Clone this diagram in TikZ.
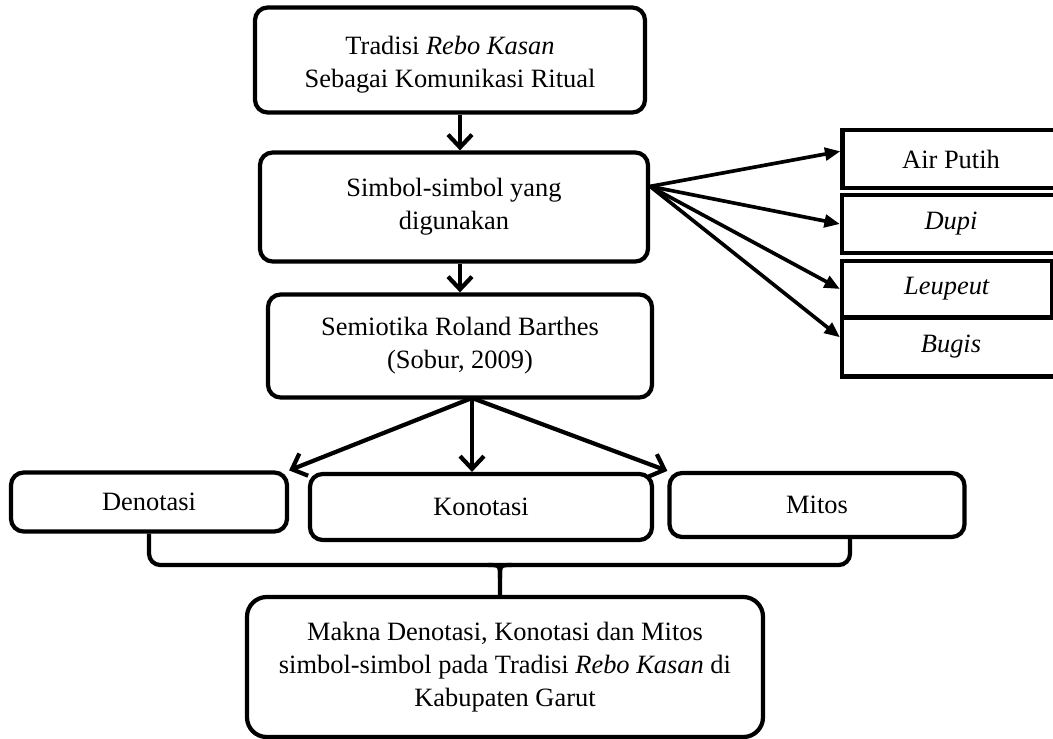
\documentclass[tikz,border=0pt]{standalone}
\usepackage{fontspec}
\setmainfont{Liberation Serif}
\usetikzlibrary{arrows.meta}

\newcommand{\px}{0.025cm}

\tikzset{
    box/.style={draw, line width=3pt, rounded corners=9pt, align=center, inner sep=0pt,
        font=\fontsize{18.8}{23.5}\selectfont},
    itembox/.style={draw, line width=3pt, inner sep=0pt, minimum height=58*\px,
        font=\fontsize{18.8}{23.5}\selectfont},
    link/.style={line width=3pt, ->},
    sidelink/.style={line width=2.6pt, -{Triangle[length=11pt, width=9pt]}},
    bracket/.style={line width=3pt, rounded corners=8pt}
}

\begin{document}
\begin{tikzpicture}[x=\px, y=-\px, >={Straight Barb[length=9pt, width=17pt]}]
    \useasboundingbox (0,0) rectangle (1053,738);
    \clip (0,0) rectangle (1053,738);

    \node[box, minimum width=390*\px, minimum height=105*\px] (tradisi) at (450,60) {\rule{0pt}{20pt}Tradisi \textit{Rebo Kasan}\\Sebagai Komunikasi Ritual};
    \node[box, minimum width=388*\px, minimum height=109*\px] (simbol) at (454,207) {Simbol-simbol yang\\digunakan};
    \node[box, minimum width=384*\px, minimum height=103*\px] (semiotika) at (460,346) {Semiotika Roland Barthes\\(Sobur, 2009)};

    \node[itembox, minimum width=217*\px] (airputih) at (951,159) {Air Putih};
    \node[itembox, minimum width=218*\px] (dupi) at (951,224) {\textit{Dupi}};
    \node[itembox, minimum width=218*\px, minimum height=59*\px] (bugis) at (951,347) {\textit{Bugis}};
    \node[itembox, minimum width=210*\px, minimum height=56*\px] (leupeut) at (947,289) {\textit{Leupeut}};

    \node[box, minimum width=276*\px, minimum height=59*\px] (denotasi) at (149,502) {Denotasi};
    \node[box, minimum width=342*\px, minimum height=66*\px] (konotasi) at (481,507) {Konotasi};
    \node[box, minimum width=295*\px, minimum height=64*\px] (mitos) at (817,505) {Mitos};

    \node[box, rounded corners=14pt, minimum width=516*\px, minimum height=140*\px] (akhir) at (505,667) {Makna Denotasi, Konotasi dan Mitos\\simbol-simbol pada Tradisi \textit{Rebo Kasan} di\\Kabupaten Garut};

    % alur utama
    \draw[link] (tradisi.south -| semiotika.north) -- (simbol.north -| semiotika.north);
    \draw[link] (simbol.south -| semiotika.north) -- (semiotika.north);

    % simbol
    \draw[sidelink] (simbol.6) -- (airputih.176);
    \draw[sidelink] (simbol.6) -- (dupi.west);
    \draw[sidelink] (simbol.6) -- (leupeut.west);
    \draw[sidelink] (simbol.6) -- (bugis.175);

    % semiotika
    \coordinate (semout) at (472,398);
    \draw[link] (semout) -- (denotasi.north east);
    \draw[link] (semout) -- (semout |- konotasi.north);
    \draw[link] (semout) -- (mitos.north west);

    % kurung
    \coordinate (brace) at (500,565);
    \coordinate (braceL) at (488,565);
    \coordinate (braceR) at (512,565);
    \coordinate (braceT) at (500,578);
    \coordinate (mitosend) at (850,537);
    \draw[bracket] (denotasi.south) |- (brace) -| (mitosend);
    \draw[line width=3pt] (braceL) .. controls (brace) .. (braceT) -- (braceT |- akhir.north);
    \draw[line width=3pt] (braceR) .. controls (brace) .. (braceT);
\end{tikzpicture}
\end{document}
